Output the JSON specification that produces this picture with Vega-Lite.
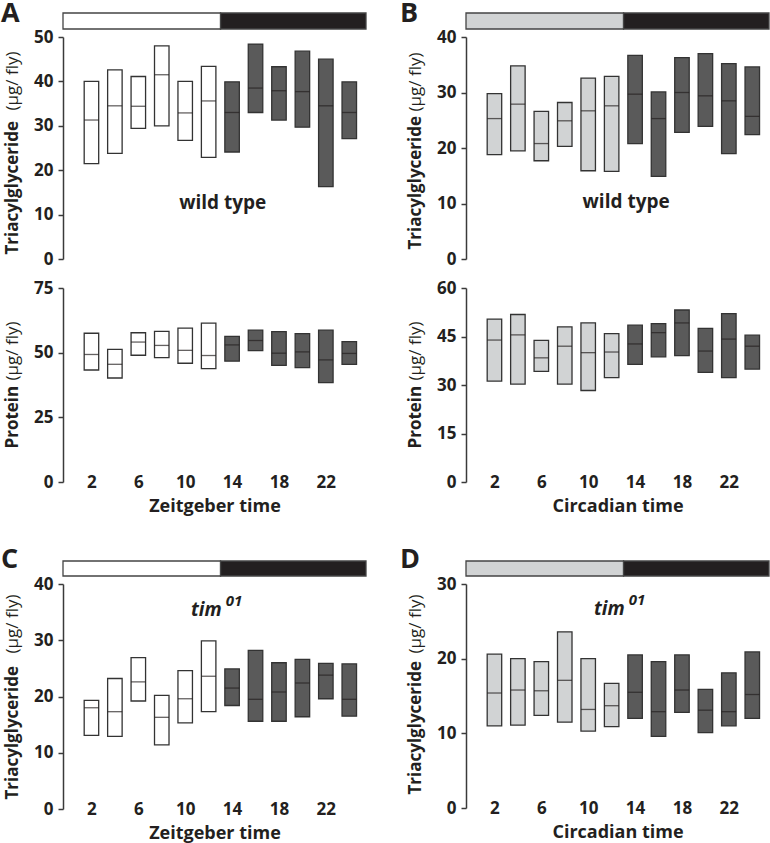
{
 "$schema": "https://vega.github.io/schema/vega-lite/v6.json",
 "padding": {"left": 1, "top": 0, "right": 0, "bottom": 0},
 "background": "white",
 "datasets": {
  "LD": [{"start": 0, "end": 13, "phase": "light"}, {"start": 13, "end": 25, "phase": "dark"}],
  "one": [{"k": 0}],
  "A_tag": [
   {"t": 2, "lo": 21.5, "med": 31.3, "hi": 40.0, "phase": "light"},
   {"t": 4, "lo": 23.8, "med": 34.5, "hi": 42.6, "phase": "light"},
   {"t": 6, "lo": 29.4, "med": 34.4, "hi": 41.1, "phase": "light"},
   {"t": 8, "lo": 30.0, "med": 41.5, "hi": 48.0, "phase": "light"},
   {"t": 10, "lo": 26.7, "med": 32.9, "hi": 40.0, "phase": "light"},
   {"t": 12, "lo": 22.9, "med": 35.6, "hi": 43.4, "phase": "light"},
   {"t": 14, "lo": 24.1, "med": 33.0, "hi": 39.9, "phase": "dark"},
   {"t": 16, "lo": 33.0, "med": 38.5, "hi": 48.4, "phase": "dark"},
   {"t": 18, "lo": 31.3, "med": 37.9, "hi": 43.3, "phase": "dark"},
   {"t": 20, "lo": 29.7, "med": 37.7, "hi": 46.8, "phase": "dark"},
   {"t": 22, "lo": 16.3, "med": 34.5, "hi": 45.0, "phase": "dark"},
   {"t": 24, "lo": 27.1, "med": 33.0, "hi": 39.9, "phase": "dark"}
  ],
  "A_prot": [
   {"t": 2, "lo": 43.3, "med": 49.3, "hi": 57.5, "phase": "light"},
   {"t": 4, "lo": 40.2, "med": 45.5, "hi": 51.3, "phase": "light"},
   {"t": 6, "lo": 49.0, "med": 54.1, "hi": 57.7, "phase": "light"},
   {"t": 8, "lo": 48.1, "med": 52.8, "hi": 58.2, "phase": "light"},
   {"t": 10, "lo": 45.9, "med": 50.9, "hi": 59.5, "phase": "light"},
   {"t": 12, "lo": 43.8, "med": 48.9, "hi": 61.4, "phase": "light"},
   {"t": 14, "lo": 46.7, "med": 53.0, "hi": 56.3, "phase": "dark"},
   {"t": 16, "lo": 50.8, "med": 54.7, "hi": 58.7, "phase": "dark"},
   {"t": 18, "lo": 45.1, "med": 49.8, "hi": 58.1, "phase": "dark"},
   {"t": 20, "lo": 44.2, "med": 50.3, "hi": 57.4, "phase": "dark"},
   {"t": 22, "lo": 38.4, "med": 47.2, "hi": 58.7, "phase": "dark"},
   {"t": 24, "lo": 45.5, "med": 49.7, "hi": 54.3, "phase": "dark"}
  ],
  "B_tag": [
   {"t": 2, "lo": 18.8, "med": 25.3, "hi": 29.8, "phase": "light"},
   {"t": 4, "lo": 19.5, "med": 27.9, "hi": 34.8, "phase": "light"},
   {"t": 6, "lo": 17.7, "med": 20.8, "hi": 26.6, "phase": "light"},
   {"t": 8, "lo": 20.3, "med": 24.9, "hi": 28.2, "phase": "light"},
   {"t": 10, "lo": 15.9, "med": 26.7, "hi": 32.6, "phase": "light"},
   {"t": 12, "lo": 15.8, "med": 27.6, "hi": 32.9, "phase": "light"},
   {"t": 14, "lo": 20.8, "med": 29.7, "hi": 36.7, "phase": "dark"},
   {"t": 16, "lo": 14.9, "med": 25.3, "hi": 30.1, "phase": "dark"},
   {"t": 18, "lo": 22.8, "med": 30.0, "hi": 36.3, "phase": "dark"},
   {"t": 20, "lo": 23.9, "med": 29.4, "hi": 37.0, "phase": "dark"},
   {"t": 22, "lo": 19.0, "med": 28.5, "hi": 35.2, "phase": "dark"},
   {"t": 24, "lo": 22.4, "med": 25.7, "hi": 34.6, "phase": "dark"}
  ],
  "B_prot": [
   {"t": 2, "lo": 31.2, "med": 43.9, "hi": 50.4, "phase": "light"},
   {"t": 4, "lo": 30.3, "med": 45.5, "hi": 51.8, "phase": "light"},
   {"t": 6, "lo": 34.2, "med": 38.4, "hi": 43.8, "phase": "light"},
   {"t": 8, "lo": 30.3, "med": 42.0, "hi": 48.0, "phase": "light"},
   {"t": 10, "lo": 28.3, "med": 40.0, "hi": 49.2, "phase": "light"},
   {"t": 12, "lo": 32.3, "med": 40.2, "hi": 45.9, "phase": "light"},
   {"t": 14, "lo": 36.4, "med": 42.7, "hi": 48.5, "phase": "dark"},
   {"t": 16, "lo": 38.7, "med": 46.2, "hi": 49.0, "phase": "dark"},
   {"t": 18, "lo": 39.1, "med": 49.2, "hi": 53.2, "phase": "dark"},
   {"t": 20, "lo": 33.9, "med": 40.5, "hi": 47.5, "phase": "dark"},
   {"t": 22, "lo": 32.3, "med": 44.2, "hi": 52.1, "phase": "dark"},
   {"t": 24, "lo": 34.9, "med": 42.0, "hi": 45.4, "phase": "dark"}
  ],
  "C_tag": [
   {"t": 2, "lo": 13.1, "med": 18.0, "hi": 19.3, "phase": "light"},
   {"t": 4, "lo": 12.9, "med": 17.3, "hi": 23.2, "phase": "light"},
   {"t": 6, "lo": 19.2, "med": 22.6, "hi": 26.9, "phase": "light"},
   {"t": 8, "lo": 11.4, "med": 16.3, "hi": 20.2, "phase": "light"},
   {"t": 10, "lo": 15.3, "med": 19.6, "hi": 24.6, "phase": "light"},
   {"t": 12, "lo": 17.3, "med": 23.6, "hi": 29.9, "phase": "light"},
   {"t": 14, "lo": 18.4, "med": 21.5, "hi": 24.9, "phase": "dark"},
   {"t": 16, "lo": 15.6, "med": 19.5, "hi": 28.2, "phase": "dark"},
   {"t": 18, "lo": 15.6, "med": 20.8, "hi": 26.0, "phase": "dark"},
   {"t": 20, "lo": 16.4, "med": 22.4, "hi": 26.6, "phase": "dark"},
   {"t": 22, "lo": 19.6, "med": 23.8, "hi": 25.9, "phase": "dark"},
   {"t": 24, "lo": 16.5, "med": 19.5, "hi": 25.8, "phase": "dark"}
  ],
  "D_tag": [
   {"t": 2, "lo": 11.0, "med": 15.4, "hi": 20.6, "phase": "light"},
   {"t": 4, "lo": 11.1, "med": 15.8, "hi": 20.0, "phase": "light"},
   {"t": 6, "lo": 12.4, "med": 15.7, "hi": 19.6, "phase": "light"},
   {"t": 8, "lo": 11.5, "med": 17.1, "hi": 23.6, "phase": "light"},
   {"t": 10, "lo": 10.3, "med": 13.2, "hi": 20.0, "phase": "light"},
   {"t": 12, "lo": 10.9, "med": 13.7, "hi": 16.7, "phase": "light"},
   {"t": 14, "lo": 12.0, "med": 15.5, "hi": 20.5, "phase": "dark"},
   {"t": 16, "lo": 9.6, "med": 12.9, "hi": 19.6, "phase": "dark"},
   {"t": 18, "lo": 12.8, "med": 15.8, "hi": 20.5, "phase": "dark"},
   {"t": 20, "lo": 10.1, "med": 13.1, "hi": 15.9, "phase": "dark"},
   {"t": 22, "lo": 11.0, "med": 12.9, "hi": 18.1, "phase": "dark"},
   {"t": 24, "lo": 12.0, "med": 15.2, "hi": 20.9, "phase": "dark"}
  ]
 },
 "bounds": "flush",
 "columns": 2,
 "spacing": {"row": 8, "column": 100},
 "concat": [
  {
   "width": 303, "height": 16,
   "layer": [
    {"data": {"name": "LD"}, "mark": {"type": "rect", "stroke": "#444444", "strokeWidth": 1.3},
     "encoding": {
      "x": {"field": "start", "type": "quantitative", "scale": {"domain": [0, 25]}, "axis": null},
      "x2": {"field": "end"},
      "y": {"datum": 0, "type": "quantitative", "scale": {"domain": [0, 1]}, "axis": null},
      "y2": {"datum": 1},
      "fill": {"condition": {"test": "datum.phase === 'light'", "value": "#ffffff"}, "value": "#231f20"}
     }},
    {"data": {"name": "one"}, "mark": {"type": "text", "align": "left", "baseline": "alphabetic", "dx": -62, "dy": 9.4, "fontSize": 27, "fontWeight": "bold", "font": "Open Sans", "color": "#231f20"},
     "encoding": {
      "x": {"datum": 0, "type": "quantitative", "scale": {"domain": [0, 25]}, "axis": null},
      "y": {"datum": 1, "type": "quantitative", "scale": {"domain": [0, 1]}, "axis": null},
      "text": {"value": "A"}
     }}
   ]
  },
  {
   "width": 303, "height": 16,
   "layer": [
    {"data": {"name": "LD"}, "mark": {"type": "rect", "stroke": "#444444", "strokeWidth": 1.3},
     "encoding": {
      "x": {"field": "start", "type": "quantitative", "scale": {"domain": [0, 25]}, "axis": null},
      "x2": {"field": "end"},
      "y": {"datum": 0, "type": "quantitative", "scale": {"domain": [0, 1]}, "axis": null},
      "y2": {"datum": 1},
      "fill": {"condition": {"test": "datum.phase === 'light'", "value": "#d1d3d4"}, "value": "#231f20"}
     }},
    {"data": {"name": "one"}, "mark": {"type": "text", "align": "left", "baseline": "alphabetic", "dx": -66, "dy": 9.4, "fontSize": 27, "fontWeight": "bold", "font": "Open Sans", "color": "#231f20"},
     "encoding": {
      "x": {"datum": 0, "type": "quantitative", "scale": {"domain": [0, 25]}, "axis": null},
      "y": {"datum": 1, "type": "quantitative", "scale": {"domain": [0, 1]}, "axis": null},
      "text": {"value": "B"}
     }}
   ]
  },
  {
   "width": 303, "height": 222,
   "data": {"name": "A_tag"},
   "layer": [
    {"mark": {"type": "bar", "size": 14.5, "stroke": "#333333", "strokeWidth": 1.3},
     "encoding": {
      "x": {"field": "t", "type": "quantitative", "scale": {"domain": [0, 25]}, "axis": null},
      "y": {"field": "lo", "type": "quantitative", "scale": {"domain": [0, 50], "nice": false}, "axis": {"orient": "left", "values": [0, 10, 20, 30, 40, 50], "title": "Triacylglyceride", "titleAlign": "left", "titleY": 217}},
      "y2": {"field": "hi"},
      "fill": {"condition": {"test": "datum.phase === 'light'", "value": "#ffffff"}, "value": "#5a5a5a"}
     }},
    {"mark": {"type": "tick", "orient": "horizontal", "size": 14.5, "thickness": 1.3, "color": "#231f20"},
     "encoding": {
      "x": {"field": "t", "type": "quantitative", "scale": {"domain": [0, 25]}, "axis": null},
      "y": {"field": "med", "type": "quantitative", "scale": {"domain": [0, 50], "nice": false}, "axis": {"orient": "left", "labels": false, "ticks": false, "domain": false, "title": "(µg/ fly)", "titleFontWeight": "normal", "titleAlign": "right", "titleY": 14}}
     }},
    {"data": {"name": "one"}, "mark": {"type": "text", "font": "Open Sans", "fontWeight": "bold", "fontSize": 19, "color": "#231f20", "baseline": "alphabetic"},
     "encoding": {
      "x": {"datum": 13.2, "type": "quantitative", "scale": {"domain": [0, 25]}, "axis": null},
      "y": {"datum": 11.3, "type": "quantitative", "scale": {"domain": [0, 50], "nice": false}, "axis": null},
      "text": {"value": "wild type"}
     }}
   ],
   "resolve": {"axis": {"y": "independent"}}
  },
  {
   "width": 303, "height": 222,
   "data": {"name": "B_tag"},
   "layer": [
    {"mark": {"type": "bar", "size": 14.5, "stroke": "#333333", "strokeWidth": 1.3},
     "encoding": {
      "x": {"field": "t", "type": "quantitative", "scale": {"domain": [0, 25]}, "axis": null},
      "y": {"field": "lo", "type": "quantitative", "scale": {"domain": [0, 40], "nice": false}, "axis": {"orient": "left", "values": [0, 10, 20, 30, 40], "title": "Triacylglyceride", "titleAlign": "left", "titleY": 212}},
      "y2": {"field": "hi"},
      "fill": {"condition": {"test": "datum.phase === 'light'", "value": "#d1d3d4"}, "value": "#5a5a5a"}
     }},
    {"mark": {"type": "tick", "orient": "horizontal", "size": 14.5, "thickness": 1.3, "color": "#231f20"},
     "encoding": {
      "x": {"field": "t", "type": "quantitative", "scale": {"domain": [0, 25]}, "axis": null},
      "y": {"field": "med", "type": "quantitative", "scale": {"domain": [0, 40], "nice": false}, "axis": {"orient": "left", "labels": false, "ticks": false, "domain": false, "title": "(µg/ fly)", "titleFontWeight": "normal", "titleAlign": "right", "titleY": 15}}
     }},
    {"data": {"name": "one"}, "mark": {"type": "text", "font": "Open Sans", "fontWeight": "bold", "fontSize": 19, "color": "#231f20", "baseline": "alphabetic"},
     "encoding": {
      "x": {"datum": 13.24, "type": "quantitative", "scale": {"domain": [0, 25]}, "axis": null},
      "y": {"datum": 9.15, "type": "quantitative", "scale": {"domain": [0, 40], "nice": false}, "axis": null},
      "text": {"value": "wild type"}
     }}
   ],
   "resolve": {"axis": {"y": "independent"}}
  },
  {"width": 303, "height": 13, "data": {"name": "one"}, "mark": {"type": "point", "opacity": 0, "size": 0}},
  {"width": 303, "height": 13, "data": {"name": "one"}, "mark": {"type": "point", "opacity": 0, "size": 0}},
  {
   "width": 303, "height": 194,
   "data": {"name": "A_prot"},
   "layer": [
    {"mark": {"type": "bar", "size": 14.5, "stroke": "#333333", "strokeWidth": 1.3},
     "encoding": {
      "x": {"field": "t", "type": "quantitative", "scale": {"domain": [0, 25]}, "axis": {"values": [2, 6, 10, 14, 18, 22], "title": "Zeitgeber time"}},
      "y": {"field": "lo", "type": "quantitative", "scale": {"domain": [0, 75], "nice": false}, "axis": {"orient": "left", "values": [0, 25, 50, 75], "title": "Protein", "titleAlign": "left", "titleY": 160}},
      "y2": {"field": "hi"},
      "fill": {"condition": {"test": "datum.phase === 'light'", "value": "#ffffff"}, "value": "#5a5a5a"}
     }},
    {"mark": {"type": "tick", "orient": "horizontal", "size": 14.5, "thickness": 1.3, "color": "#231f20"},
     "encoding": {
      "x": {"field": "t", "type": "quantitative", "scale": {"domain": [0, 25]}, "axis": {"values": [2, 6, 10, 14, 18, 22], "title": "Zeitgeber time"}},
      "y": {"field": "med", "type": "quantitative", "scale": {"domain": [0, 75], "nice": false}, "axis": {"orient": "left", "labels": false, "ticks": false, "domain": false, "title": "(µg/ fly)", "titleFontWeight": "normal", "titleAlign": "right", "titleY": 33}}
     }}
   ],
   "resolve": {"axis": {"y": "independent"}}
  },
  {
   "width": 303, "height": 194,
   "data": {"name": "B_prot"},
   "layer": [
    {"mark": {"type": "bar", "size": 14.5, "stroke": "#333333", "strokeWidth": 1.3},
     "encoding": {
      "x": {"field": "t", "type": "quantitative", "scale": {"domain": [0, 25]}, "axis": {"values": [2, 6, 10, 14, 18, 22], "title": "Circadian time"}},
      "y": {"field": "lo", "type": "quantitative", "scale": {"domain": [0, 60], "nice": false}, "axis": {"orient": "left", "values": [0, 15, 30, 45, 60], "title": "Protein", "titleAlign": "left", "titleY": 160}},
      "y2": {"field": "hi"},
      "fill": {"condition": {"test": "datum.phase === 'light'", "value": "#d1d3d4"}, "value": "#5a5a5a"}
     }},
    {"mark": {"type": "tick", "orient": "horizontal", "size": 14.5, "thickness": 1.3, "color": "#231f20"},
     "encoding": {
      "x": {"field": "t", "type": "quantitative", "scale": {"domain": [0, 25]}, "axis": {"values": [2, 6, 10, 14, 18, 22], "title": "Circadian time"}},
      "y": {"field": "med", "type": "quantitative", "scale": {"domain": [0, 60], "nice": false}, "axis": {"orient": "left", "labels": false, "ticks": false, "domain": false, "title": "(µg/ fly)", "titleFontWeight": "normal", "titleAlign": "right", "titleY": 33}}
     }}
   ],
   "resolve": {"axis": {"y": "independent"}}
  },
  {"width": 303, "height": 63, "data": {"name": "one"}, "mark": {"type": "point", "opacity": 0, "size": 0}},
  {"width": 303, "height": 63, "data": {"name": "one"}, "mark": {"type": "point", "opacity": 0, "size": 0}},
  {
   "width": 303, "height": 15,
   "layer": [
    {"data": {"name": "LD"}, "mark": {"type": "rect", "stroke": "#444444", "strokeWidth": 1.3},
     "encoding": {
      "x": {"field": "start", "type": "quantitative", "scale": {"domain": [0, 25]}, "axis": null},
      "x2": {"field": "end"},
      "y": {"datum": 0, "type": "quantitative", "scale": {"domain": [0, 1]}, "axis": null},
      "y2": {"datum": 1},
      "fill": {"condition": {"test": "datum.phase === 'light'", "value": "#ffffff"}, "value": "#231f20"}
     }},
    {"data": {"name": "one"}, "mark": {"type": "text", "align": "left", "baseline": "alphabetic", "dx": -62, "dy": 7, "fontSize": 27, "fontWeight": "bold", "font": "Open Sans", "color": "#231f20"},
     "encoding": {
      "x": {"datum": 0, "type": "quantitative", "scale": {"domain": [0, 25]}, "axis": null},
      "y": {"datum": 1, "type": "quantitative", "scale": {"domain": [0, 1]}, "axis": null},
      "text": {"value": "C"}
     }}
   ]
  },
  {
   "width": 303, "height": 15,
   "layer": [
    {"data": {"name": "LD"}, "mark": {"type": "rect", "stroke": "#444444", "strokeWidth": 1.3},
     "encoding": {
      "x": {"field": "start", "type": "quantitative", "scale": {"domain": [0, 25]}, "axis": null},
      "x2": {"field": "end"},
      "y": {"datum": 0, "type": "quantitative", "scale": {"domain": [0, 1]}, "axis": null},
      "y2": {"datum": 1},
      "fill": {"condition": {"test": "datum.phase === 'light'", "value": "#d1d3d4"}, "value": "#231f20"}
     }},
    {"data": {"name": "one"}, "mark": {"type": "text", "align": "left", "baseline": "alphabetic", "dx": -66, "dy": 7, "fontSize": 27, "fontWeight": "bold", "font": "Open Sans", "color": "#231f20"},
     "encoding": {
      "x": {"datum": 0, "type": "quantitative", "scale": {"domain": [0, 25]}, "axis": null},
      "y": {"datum": 1, "type": "quantitative", "scale": {"domain": [0, 1]}, "axis": null},
      "text": {"value": "D"}
     }}
   ]
  },
  {
   "width": 303, "height": 225,
   "data": {"name": "C_tag"},
   "layer": [
    {"mark": {"type": "bar", "size": 14.5, "stroke": "#333333", "strokeWidth": 1.3},
     "encoding": {
      "x": {"field": "t", "type": "quantitative", "scale": {"domain": [0, 25]}, "axis": {"values": [2, 6, 10, 14, 18, 22], "title": "Zeitgeber time"}},
      "y": {"field": "lo", "type": "quantitative", "scale": {"domain": [0, 40], "nice": false}, "axis": {"orient": "left", "values": [0, 10, 20, 30, 40], "title": "Triacylglyceride", "titleAlign": "left", "titleY": 215}},
      "y2": {"field": "hi"},
      "fill": {"condition": {"test": "datum.phase === 'light'", "value": "#ffffff"}, "value": "#5a5a5a"}
     }},
    {"mark": {"type": "tick", "orient": "horizontal", "size": 14.5, "thickness": 1.3, "color": "#231f20"},
     "encoding": {
      "x": {"field": "t", "type": "quantitative", "scale": {"domain": [0, 25]}, "axis": {"values": [2, 6, 10, 14, 18, 22], "title": "Zeitgeber time"}},
      "y": {"field": "med", "type": "quantitative", "scale": {"domain": [0, 40], "nice": false}, "axis": {"orient": "left", "labels": false, "ticks": false, "domain": false, "title": "(µg/ fly)", "titleFontWeight": "normal", "titleAlign": "right", "titleY": 10}}
     }},
    {"data": {"name": "one"}, "mark": {"type": "text", "font": "Open Sans", "fontWeight": "bold", "fontStyle": "italic", "fontSize": 19, "color": "#231f20", "baseline": "alphabetic", "align": "right", "dx": -1},
     "encoding": {
      "x": {"datum": 13.2, "type": "quantitative", "scale": {"domain": [0, 25]}, "axis": {"values": [2, 6, 10, 14, 18, 22], "title": "Zeitgeber time"}},
      "y": {"datum": 34.3, "type": "quantitative", "scale": {"domain": [0, 40], "nice": false}, "axis": null},
      "text": {"value": "tim"}
     }},
    {"data": {"name": "one"}, "mark": {"type": "text", "font": "Open Sans", "fontWeight": "bold", "fontStyle": "italic", "fontSize": 15, "color": "#231f20", "baseline": "alphabetic", "align": "left", "dx": 3, "dy": -10},
     "encoding": {
      "x": {"datum": 13.2, "type": "quantitative", "scale": {"domain": [0, 25]}, "axis": {"values": [2, 6, 10, 14, 18, 22], "title": "Zeitgeber time"}},
      "y": {"datum": 34.3, "type": "quantitative", "scale": {"domain": [0, 40], "nice": false}, "axis": null},
      "text": {"value": "01"}
     }}
   ],
   "resolve": {"axis": {"y": "independent"}}
  },
  {
   "width": 303, "height": 224,
   "data": {"name": "D_tag"},
   "layer": [
    {"mark": {"type": "bar", "size": 14.5, "stroke": "#333333", "strokeWidth": 1.3},
     "encoding": {
      "x": {"field": "t", "type": "quantitative", "scale": {"domain": [0, 25]}, "axis": {"values": [2, 6, 10, 14, 18, 22], "title": "Circadian time"}},
      "y": {"field": "lo", "type": "quantitative", "scale": {"domain": [0, 30], "nice": false}, "axis": {"orient": "left", "values": [0, 10, 20, 30], "title": "Triacylglyceride", "titleAlign": "left", "titleY": 210}},
      "y2": {"field": "hi"},
      "fill": {"condition": {"test": "datum.phase === 'light'", "value": "#d1d3d4"}, "value": "#5a5a5a"}
     }},
    {"mark": {"type": "tick", "orient": "horizontal", "size": 14.5, "thickness": 1.3, "color": "#231f20"},
     "encoding": {
      "x": {"field": "t", "type": "quantitative", "scale": {"domain": [0, 25]}, "axis": {"values": [2, 6, 10, 14, 18, 22], "title": "Circadian time"}},
      "y": {"field": "med", "type": "quantitative", "scale": {"domain": [0, 30], "nice": false}, "axis": {"orient": "left", "labels": false, "ticks": false, "domain": false, "title": "(µg/ fly)", "titleFontWeight": "normal", "titleAlign": "right", "titleY": 10}}
     }},
    {"data": {"name": "one"}, "mark": {"type": "text", "font": "Open Sans", "fontWeight": "bold", "fontStyle": "italic", "fontSize": 19, "color": "#231f20", "baseline": "alphabetic", "align": "right", "dx": -1},
     "encoding": {
      "x": {"datum": 13.2, "type": "quantitative", "scale": {"domain": [0, 25]}, "axis": {"values": [2, 6, 10, 14, 18, 22], "title": "Circadian time"}},
      "y": {"datum": 25.9, "type": "quantitative", "scale": {"domain": [0, 30], "nice": false}, "axis": null},
      "text": {"value": "tim"}
     }},
    {"data": {"name": "one"}, "mark": {"type": "text", "font": "Open Sans", "fontWeight": "bold", "fontStyle": "italic", "fontSize": 15, "color": "#231f20", "baseline": "alphabetic", "align": "left", "dx": 3, "dy": -10},
     "encoding": {
      "x": {"datum": 13.2, "type": "quantitative", "scale": {"domain": [0, 25]}, "axis": {"values": [2, 6, 10, 14, 18, 22], "title": "Circadian time"}},
      "y": {"datum": 25.9, "type": "quantitative", "scale": {"domain": [0, 30], "nice": false}, "axis": null},
      "text": {"value": "01"}
     }}
   ],
   "resolve": {"axis": {"y": "independent"}}
  }
 ],
 "config": {
  "view": {"stroke": null},
  "font": "Open Sans",
  "axis": {"grid": false, "labelFont": "Open Sans", "labelFontWeight": "bold", "labelFontSize": 17, "labelColor": "#231f20", "titleFont": "Open Sans", "titleFontSize": 17, "titleFontWeight": "bold", "titleColor": "#231f20", "domainColor": "#3a3a3a", "tickColor": "#3a3a3a", "domainWidth": 1.5, "tickWidth": 1.5},
  "axisY": {"tickSize": 5, "labelPadding": 5, "titleAngle": -90, "titleBaseline": "alphabetic", "titleX": -46, "labelFlush": false},
  "axisX": {"domain": false, "ticks": false, "tickSize": 0, "labelPadding": -8, "labelFlush": false, "titleBaseline": "top", "titleY": 15.5, "titleFontSize": 18, "labelOverlap": false}
 }
}
